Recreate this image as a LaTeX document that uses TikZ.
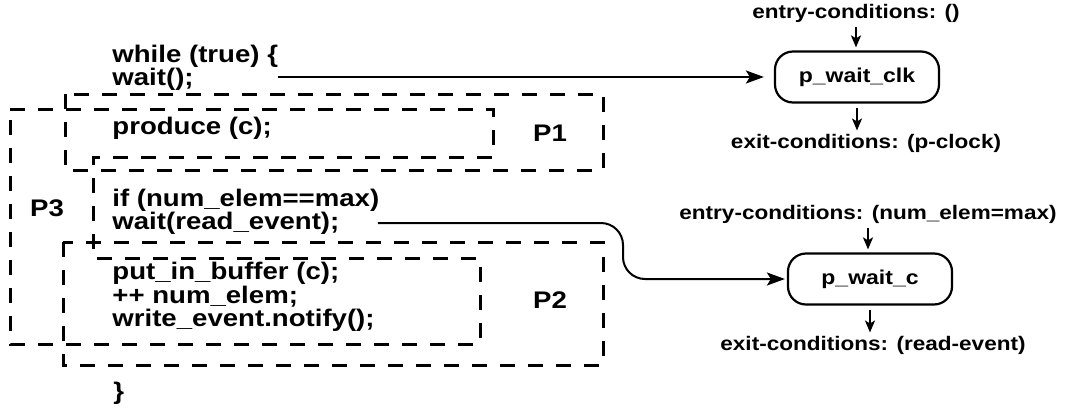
\documentclass[tikz,border=0pt]{standalone}
\usepackage{fontspec}
\setmainfont[FakeStretch=1.15]{Liberation Sans}
\usetikzlibrary{arrows.meta}

\begin{document}
\begin{tikzpicture}[x=0.5pt,y=-0.5pt]
        %
        % `code' is used for the program lines on the left.
        % `cond' is used for the entry / exit conditions.
        % `proc' is used for the rounded process boxes.
        \tikzstyle{code} = [anchor=west,inner sep=0pt,font=\fontsize{12}{14}\selectfont\bfseries]
        \tikzstyle{cond} = [inner sep=0pt,font=\fontsize{9.8}{12}\selectfont\bfseries]
        \tikzstyle{proc} = [draw,line width=1.1pt,rounded corners=9pt,minimum width=82pt,minimum height=25.5pt,font=\fontsize{10}{12}\selectfont\bfseries]
        \tikzstyle{region} = [line width=1.5pt,dash pattern=on 7.5pt off 6.5pt]
        \tikzstyle{flow} = [line width=1pt,-{Stealth[length=9pt,width=6.5pt,inset=2pt]}]
        \tikzstyle{cflow} = [line width=1pt,-{Stealth[length=6pt,width=5pt,inset=1.5pt]},shorten <=2pt,shorten >=1.5pt]
        %
        \useasboundingbox (0,0) rectangle (1073,408);
        %
        % Program text
        \node[code] (while) at (112,56) {while (true) \{};
        \node[code] (wait) at (112,79) {wait();};
        \node[code] (produce) at (112,128) {produce (c);};
        \node[code] (if) at (112,200) {if (num\_elem==max)};
        \node[code] (rw) at (112,223) {wait(read\_event);};
        \node[code] (put) at (112,273) {put\_in\_buffer (c);};
        \node[code] (inc) at (112,297) {++ num\_elem;};
        \node[code] (notify) at (112,320) {write\_event.notify();};
        \node[code] (close) at (113,393) {\}};
        %
        % Regions
        \draw[region] (65,94) rectangle (603,170);
        \draw[region] (63,242) rectangle (603,365);
        \draw[region] (10,109) -- (493,109) -- (493,157) -- (93,157) -- (93,258)
                -- (480,258) -- (480,344) -- (10,344) -- cycle;
        \node[code,anchor=center] (p1) at (550,133) {P1};
        \node[code,anchor=center] (p2) at (550,300) {P2};
        \node[code,anchor=center] (p3) at (47,208) {P3};
        %
        % Process p_wait_clk
        \node[cond] (entry1) at (856,13) {entry-conditions: ()};
        \node[proc] (clk) at (857,77) {p\_wait\_clk};
        \node[cond] (exit1) at (866,143) {exit-conditions: (p-clock)};
        \draw[cflow] (entry1) -- (entry1 |- clk.north);
        \draw[cflow] (clk) -- (clk |- exit1.north);
        %
        % Process p_wait_c
        \node[cond] (entry2) at (868,214) {entry-conditions: (num\_elem=max)};
        \node[proc] (waitc) at (870,279) {p\_wait\_c};
        \node[cond] (exit2) at (873,345) {exit-conditions: (read-event)};
        \draw[cflow] (entry2) -- (entry2 |- waitc.north);
        \draw[cflow] (waitc) -- (waitc |- exit2.north);
        %
        % Connectors
        \draw[flow,shorten >=5pt] (clk.west -| while.east) -- (clk.west);
        \coordinate (turn) at (623,279);
        \draw[flow,rounded corners=11pt,shorten >=1pt] ([xshift=19pt]rw.east) -| (turn) -- (waitc.west);
        %
\end{tikzpicture}
\end{document}
